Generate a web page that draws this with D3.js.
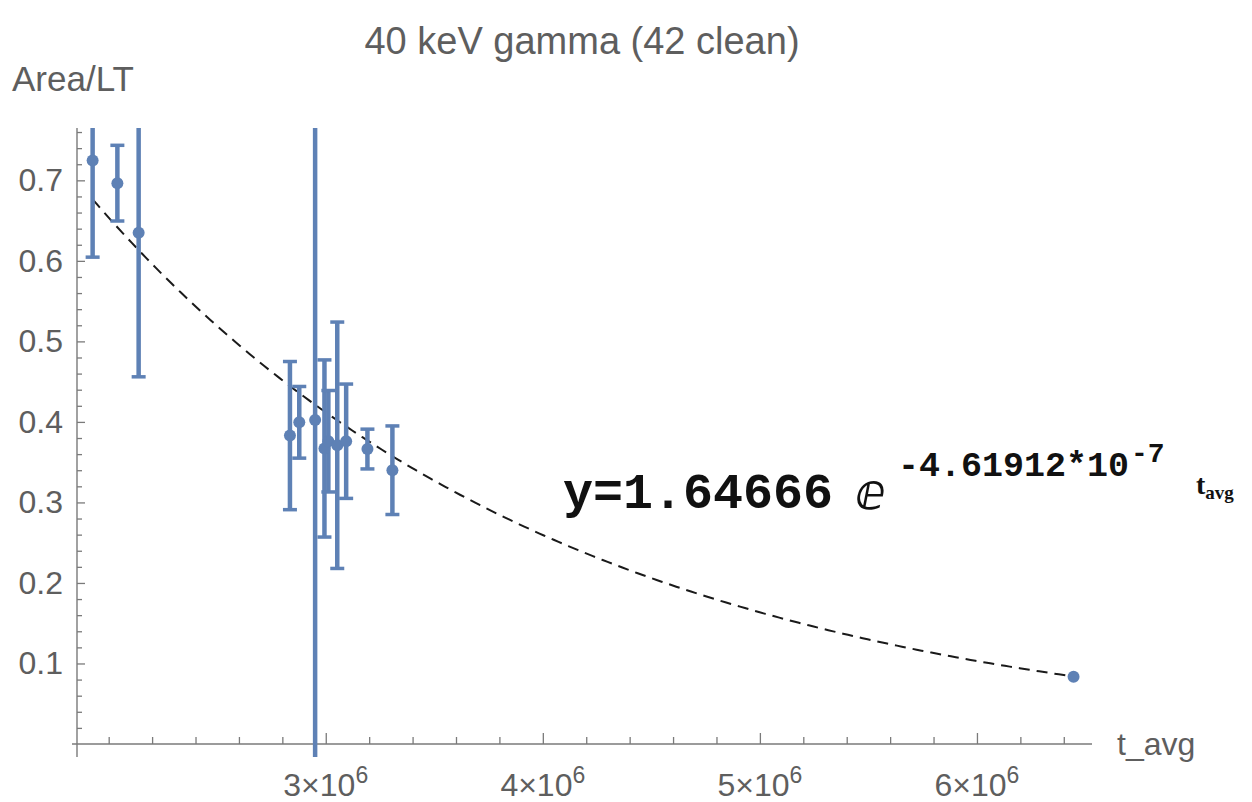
<!DOCTYPE html>
<html>
<head>
<meta charset="utf-8">
<script src="https://cdn.jsdelivr.net/npm/d3@7/dist/d3.min.js"></script>
<style>
  html, body { margin: 0; padding: 0; background: #fff; }
  svg { display: block; }
  .lbl { font-family: "Liberation Sans", Arial, Helvetica, sans-serif; fill: #5e5e5e; }
</style>
</head>
<body>
<svg id="chart" width="1252" height="802"></svg>
<script>
// Measured decay points: average time, Area/LT and its uncertainty
const tAvg    = [1.926e6, 2.040e6, 2.138e6, 2.835e6, 2.878e6, 2.951e6, 2.994e6, 3.012e6, 3.053e6, 3.094e6, 3.192e6, 3.307e6, 6.445e6];
const areaLT  = [0.7246, 0.6965, 0.635, 0.383, 0.3995, 0.4025, 0.367, 0.376, 0.371, 0.376, 0.3663, 0.340, 0.0835];
const areaErr = [0.120, 0.047, 0.179, 0.092, 0.0445, 0.450, 0.110, 0.063, 0.153, 0.071, 0.0247, 0.055, 0.002];

// Exponential fit  y = A * exp(-B * t)
const fitA = 1.64666;
const fitB = 4.61912e-7;

// Axis ticks
const yTickValues = [0.1, 0.2, 0.3, 0.4, 0.5, 0.6, 0.7];
const yTickLabels = ["0.1", "0.2", "0.3", "0.4", "0.5", "0.6", "0.7"];
const xTickValues = [3e6, 4e6, 5e6, 6e6];
const xTickMantissa = ["3", "4", "5", "6"];
const xTickExponent = ["6", "6", "6", "6"];

const titleText = "40 keV gamma (42 clean)";
const yAxisTitle = "Area/LT";
const xAxisTitle = "t_avg";

const svg = d3.select("#chart");
const blue = "#5e81b5";
const axisGray = "#7a7a7a";

const x = d3.scaleLinear().domain([1.854e6, 6.53e6]).range([77, 1092]);
const y = d3.scaleLinear().domain([0, 0.765]).range([744, 128]);

// plot region including padding (used for clipping and axis extents)
const region = { x0: 72, x1: 1092, y0: 128, y1: 757 };

svg.append("defs").append("clipPath").attr("id", "plotClip")
  .append("rect")
  .attr("x", region.x0).attr("y", region.y0)
  .attr("width", region.x1 - region.x0).attr("height", region.y1 - region.y0);

// ---- axes ----
const gAxes = svg.append("g");

// x axis line and ticks (pointing up)
gAxes.append("line")
  .attr("x1", region.x0).attr("x2", region.x1)
  .attr("y1", y(0)).attr("y2", y(0))
  .attr("stroke", axisGray).attr("stroke-width", 1.4);

const xMinor = d3.range(10, 33).map(i => i * 2e5).filter(v => !xTickValues.includes(v));
const xMinorAxis = gAxes.append("g").attr("transform", `translate(0,${y(0)})`)
  .call(d3.axisTop(x).tickValues(xMinor).tickSize(7).tickFormat(""));
const xMajorAxis = gAxes.append("g").attr("transform", `translate(0,${y(0)})`)
  .call(d3.axisTop(x).tickValues(xTickValues).tickSize(11).tickFormat(""));

// y axis line and ticks (pointing right)
gAxes.append("line")
  .attr("x1", x.range()[0]).attr("x2", x.range()[0])
  .attr("y1", region.y0).attr("y2", region.y1)
  .attr("stroke", axisGray).attr("stroke-width", 1.4);

const yMinor = d3.range(0, 39).map(i => +(i * 0.02).toFixed(2)).filter(v => Math.abs(v * 10 - Math.round(v * 10)) > 1e-6);
const yMinorAxis = gAxes.append("g").attr("transform", `translate(${x.range()[0]},0)`)
  .call(d3.axisRight(y).tickValues(yMinor).tickSize(5).tickFormat(""));
const yMajorAxis = gAxes.append("g").attr("transform", `translate(${x.range()[0]},0)`)
  .call(d3.axisRight(y).tickValues(yTickValues).tickSize(8).tickFormat(""));

[xMinorAxis, xMajorAxis, yMinorAxis, yMajorAxis].forEach(g => {
  g.select(".domain").remove();
  g.selectAll(".tick line").attr("stroke", axisGray).attr("stroke-width", 1.3);
});

// y tick labels
gAxes.append("g").selectAll("text")
  .data(yTickValues)
  .join("text")
  .attr("class", "lbl")
  .attr("x", 63)
  .attr("y", d => y(d) + 11)
  .attr("text-anchor", "end")
  .attr("font-size", 32)
  .text((d, i) => yTickLabels[i]);

// x tick labels  (m × 10^e)
const xl = gAxes.append("g").selectAll("text")
  .data(xTickValues)
  .join("text")
  .attr("class", "lbl")
  .attr("x", d => x(d))
  .attr("y", 796)
  .attr("text-anchor", "middle")
  .attr("font-size", 32);
xl.append("tspan").text((d, i) => xTickMantissa[i] + "\u00d710");
xl.append("tspan").attr("dy", -13).attr("font-size", 23).text((d, i) => xTickExponent[i]);

// axis titles and chart title
svg.append("text").attr("class", "lbl")
  .attr("x", 12).attr("y", 91).attr("font-size", 35)
  .text(yAxisTitle);
svg.append("text").attr("class", "lbl")
  .attr("x", 1117).attr("y", 755).attr("font-size", 32)
  .text(xAxisTitle);
svg.append("text").attr("class", "lbl")
  .attr("x", 582).attr("y", 54).attr("text-anchor", "middle").attr("font-size", 38)
  .text(titleText);

// ---- fit curve ----
const fitT = d3.range(0, 201).map(i => d3.min(tAvg) + (d3.max(tAvg) - d3.min(tAvg)) * i / 200);
svg.append("path")
  .datum(fitT)
  .attr("clip-path", "url(#plotClip)")
  .attr("fill", "none")
  .attr("stroke", "#1a1a1a")
  .attr("stroke-width", 2)
  .attr("stroke-dasharray", "11,7")
  .attr("d", d3.line().x(t => x(t)).y(t => y(fitA * Math.exp(-fitB * t))));

// ---- data with error bars ----
const pts = tAvg.map((t, i) => ({ t, v: areaLT[i], e: areaErr[i] }));
const gData = svg.append("g").attr("clip-path", "url(#plotClip)");
const capHalf = 7;

const eb = gData.selectAll("g.eb").data(pts).join("g").attr("class", "eb");
eb.append("line")
  .attr("x1", d => x(d.t)).attr("x2", d => x(d.t))
  .attr("y1", d => y(d.v + d.e)).attr("y2", d => y(d.v - d.e))
  .attr("stroke", blue).attr("stroke-width", 4.5);
eb.filter(d => d.e > 0.005).append("line")
  .attr("x1", d => x(d.t) - capHalf).attr("x2", d => x(d.t) + capHalf)
  .attr("y1", d => y(d.v + d.e)).attr("y2", d => y(d.v + d.e))
  .attr("stroke", blue).attr("stroke-width", 3.5);
eb.filter(d => d.e > 0.005).append("line")
  .attr("x1", d => x(d.t) - capHalf).attr("x2", d => x(d.t) + capHalf)
  .attr("y1", d => y(d.v - d.e)).attr("y2", d => y(d.v - d.e))
  .attr("stroke", blue).attr("stroke-width", 3.5);

gData.selectAll("circle").data(pts).join("circle")
  .attr("cx", d => x(d.t)).attr("cy", d => y(d.v))
  .attr("r", 6).attr("fill", blue);

// ---- fit equation ----
const eq = svg.append("g").attr("fill", "#111");
eq.append("text")
  .attr("x", 563).attr("y", 508)
  .attr("font-family", "'Liberation Mono', 'Courier New', monospace")
  .attr("font-weight", "bold").attr("font-size", 50)
  .text("y=" + fitA.toFixed(5));
eq.append("text")
  .attr("x", 855).attr("y", 509)
  .attr("font-family", "'DejaVu Sans', sans-serif")
  .attr("font-size", 50)
  .text("\u2147");
const mant = (fitB / 1e-7).toFixed(5);
eq.append("text")
  .attr("x", 898).attr("y", 476)
  .attr("font-family", "'Liberation Mono', 'Courier New', monospace")
  .attr("font-weight", "bold").attr("font-size", 35)
  .text("-" + mant + "*10");
eq.append("text")
  .attr("x", 1131).attr("y", 462)
  .attr("font-family", "'Liberation Mono', 'Courier New', monospace")
  .attr("font-weight", "bold").attr("font-size", 28)
  .text("-7");
const tl = eq.append("text")
  .attr("x", 1196).attr("y", 494)
  .attr("font-family", "'Liberation Serif', 'Times New Roman', serif")
  .attr("font-weight", "bold").attr("font-size", 28);
tl.append("tspan").text("t");
tl.append("tspan").attr("dy", 5).attr("font-size", 19).text("avg");
</script>
</body>
</html>
